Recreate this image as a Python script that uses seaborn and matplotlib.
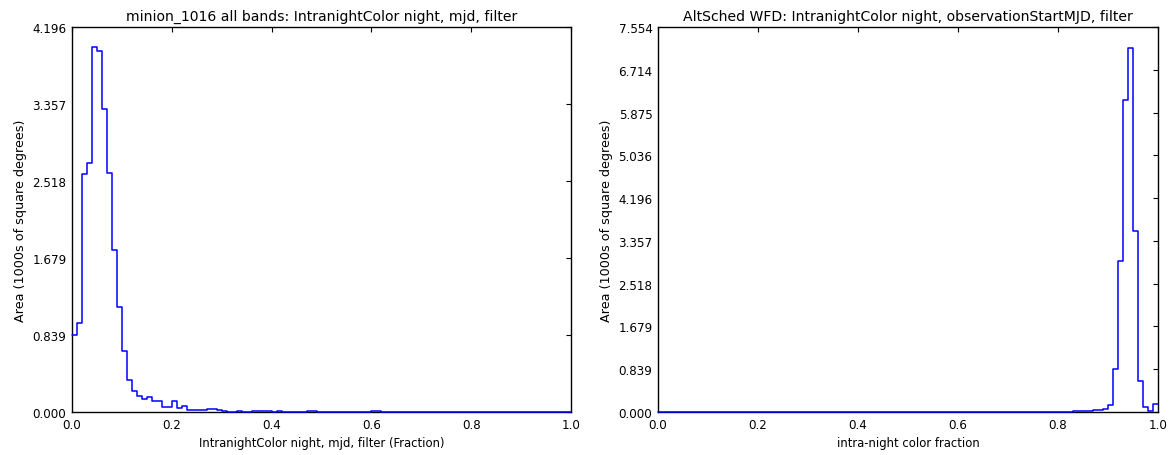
import numpy as np
import pandas as pd
import seaborn as sns
import matplotlib
matplotlib.use('Agg')
import matplotlib.pyplot as plt

# histogram bins: 100 bins of width 0.01 over [0, 1]
n_bins = 100
bin_centers = (np.arange(n_bins) + 0.5) / n_bins

# area per bin (1000s of square degrees)
minion_area = [
    0.84, 0.97, 2.59, 2.71, 3.975, 3.93, 3.30, 2.60, 1.77, 1.14,
    0.67, 0.35, 0.225, 0.17, 0.14, 0.16, 0.115, 0.115, 0.055, 0.055,
    0.12, 0.04, 0.06, 0.02, 0.02, 0.02, 0.02, 0.028, 0.028, 0.02,
    0.015, 0.005, 0.005, 0.012, 0.005, 0.005, 0.012, 0.012, 0.012, 0.012,
    0.005, 0.01, 0.003, 0.003, 0.003, 0.003, 0.005, 0.01, 0.01, 0.003,
    0.002, 0.002, 0.002, 0.002, 0.002, 0.002, 0.002, 0.002, 0.002, 0.002,
    0.01, 0.01, 0.002, 0.0, 0.0, 0.0, 0.0, 0.0, 0.0, 0.0,
    0.0, 0.0, 0.0, 0.0, 0.0, 0.0, 0.0, 0.0, 0.0, 0.0,
    0.0, 0.0, 0.0, 0.0, 0.0, 0.0, 0.0, 0.0, 0.0, 0.0,
    0.0, 0.0, 0.0, 0.0, 0.0, 0.0, 0.0, 0.0, 0.0, 0.0,
]

altsched_area = [
    0.0, 0.0, 0.0, 0.0, 0.0, 0.0, 0.0, 0.0, 0.0, 0.0,
    0.0, 0.0, 0.0, 0.0, 0.0, 0.0, 0.0, 0.0, 0.0, 0.0,
    0.0, 0.0, 0.0, 0.0, 0.0, 0.0, 0.0, 0.0, 0.0, 0.0,
    0.0, 0.0, 0.0, 0.0, 0.0, 0.0, 0.0, 0.0, 0.0, 0.0,
    0.0, 0.0, 0.0, 0.0, 0.0, 0.0, 0.0, 0.0, 0.0, 0.0,
    0.0, 0.0, 0.0, 0.0, 0.0, 0.0, 0.0, 0.0, 0.0, 0.0,
    0.0, 0.0, 0.0, 0.0, 0.0, 0.0, 0.005, 0.0, 0.0, 0.0,
    0.0, 0.005, 0.0, 0.0, 0.0, 0.005, 0.0, 0.0, 0.0, 0.0,
    0.005, 0.0, 0.0, 0.02, 0.02, 0.02, 0.01, 0.03, 0.03, 0.05,
    0.14, 0.84, 2.96, 6.13, 7.14, 3.55, 0.61, 0.09, 0.02, 0.15,
]

left_yticks = [0.000, 0.839, 1.679, 2.518, 3.357, 4.196]
right_yticks = [0.000, 0.839, 1.679, 2.518, 3.357, 4.196, 5.036, 5.875, 6.714, 7.554]

titles = ["minion_1016 all bands: IntranightColor night, mjd, filter",
          "AltSched WFD: IntranightColor night, observationStartMJD, filter"]
xlabels = ["IntranightColor night, mjd, filter (Fraction)",
           "intra-night color fraction"]

sns.set_style("white")
plt.rcParams['font.family'] = ['DejaVu Sans']
plt.rcParams['font.size'] = 8.6
plt.rcParams['text.color'] = 'black'
plt.rcParams['axes.labelcolor'] = 'black'

fig = plt.figure(figsize=(11.74, 4.56), dpi=100)
ax1 = fig.add_axes([72 / 1174, 43 / 456, 499 / 1174, 385 / 456])
ax2 = fig.add_axes([658 / 1174, 43 / 456, 500 / 1174, 385 / 456])

for ax, area, yticks, title, xlabel in zip(
        [ax1, ax2], [minion_area, altsched_area], [left_yticks, right_yticks], titles, xlabels):
    df = pd.DataFrame({'fraction': bin_centers, 'area': area})
    sns.histplot(data=df, x='fraction', weights='area', bins=n_bins, binrange=(0, 1),
                 element='step', fill=False, color='blue', linewidth=1.1,
                 zorder=3, clip_on=False, ax=ax)
    ax.set_xlim(0, 1)
    ax.set_ylim(0, yticks[-1])
    ax.set_xticks([0.0, 0.2, 0.4, 0.6, 0.8, 1.0])
    ax.set_xticklabels(['0.0', '0.2', '0.4', '0.6', '0.8', '1.0'])
    ax.set_yticks(yticks)
    ax.set_yticklabels([f'{t:.3f}' for t in yticks])
    ax.tick_params(direction='in', length=3.5, width=0.8, top=True, right=True,
                   labelsize=8.6, pad=4, colors='black')
    for sp in ax.spines.values():
        sp.set_visible(True)
        sp.set_color('black')
        sp.set_linewidth(1.0)
    ax.set_title(title, fontsize=10.1, pad=5, color='black')
    ax.set_xlabel(xlabel, fontsize=8.4, labelpad=4, color='black')
    ax.set_ylabel("Area (1000s of square degrees)", fontsize=9.2, labelpad=4, color='black')

fig.savefig('out.png', dpi=100, facecolor='white')
